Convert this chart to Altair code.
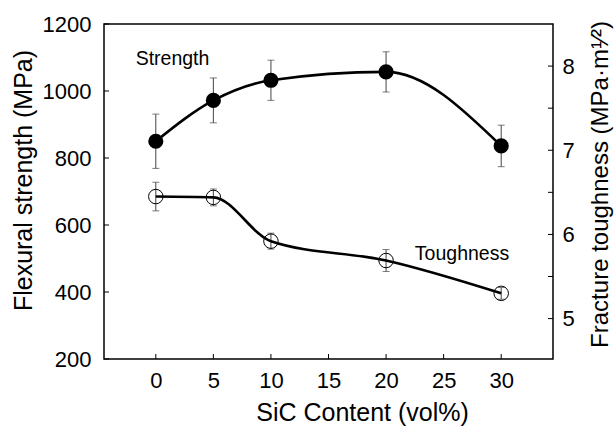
import altair as alt
import pandas as pd

# ---- data ----
sic = [0, 5, 10, 20, 30]
strength = [850, 972, 1032, 1057, 836]
strength_err = [81, 67, 60, 60, 62]
toughness = [6.45, 6.44, 5.92, 5.69, 5.30]
toughness_err = [0.17, 0.10, 0.095, 0.13, 0.07]

x_ticks = [0, 5, 10, 15, 20, 25, 30]
left_ticks = [200, 400, 600, 800, 1000, 1200]
right_ticks = [5, 5.5, 6, 6.5, 7, 7.5, 8]
right_labels = [5, 6, 7, 8]

labels = ["Strength", "Toughness"]
label_x = [-1.75, 22.5]
label_y = [1077, 495]

W, H = 449, 335
FONT = "Liberation Sans"

s_df = pd.DataFrame({
    "sic": sic, "v": strength,
    "lo": [a - b for a, b in zip(strength, strength_err)],
    "hi": [a + b for a, b in zip(strength, strength_err)],
})
t_df = pd.DataFrame({
    "sic": sic, "v": toughness,
    "lo": [a - b for a, b in zip(toughness, toughness_err)],
    "hi": [a + b for a, b in zip(toughness, toughness_err)],
})
xt_df = pd.DataFrame({"sic": x_ticks})
lt_df = pd.DataFrame({"v": left_ticks})
rt_df = pd.DataFrame({"v": right_ticks})
lab_df = pd.DataFrame({"txt": labels, "sic": label_x, "v": label_y})

common = dict(ticks=False, domain=False, grid=False, labelFontSize=22,
              titleFontWeight="normal", labelFont=FONT, titleFont=FONT,
              labelColor="black", titleColor="black", format="d")

XA = alt.Axis(values=x_ticks, title="SiC Content (vol%)", labelPadding=11, titlePadding=9,
              titleFontSize=25, titleX=258, **common)
LA = alt.Axis(values=left_ticks, title="Flexural strength (MPa)", labelPadding=13, titlePadding=6,
              titleFontSize=25, titleY=156, **common)
RA = alt.Axis(values=right_labels, title="Fracture toughness (MPa·m¹⁄²)", orient="right",
              labelPadding=9, titleFontSize=24, titleY=160, titleX=54,
              titleAngle=270, titleBaseline="alphabetic", **common)

XS = alt.Scale(domain=[-4.5, 34.5], nice=False, zero=False)
LS = alt.Scale(domain=[200, 1200], nice=False, zero=False)
TS = alt.Scale(domain=[4.52, 8.5], nice=False, zero=False)

X = alt.X("sic:Q", scale=XS, axis=XA)

def YL(f):
    return alt.Y(f, scale=LS, axis=LA)

def YR(f):
    return alt.Y(f, scale=TS, axis=RA)

ERR = "#444"

# ---- strength (left axis) ----
s_line = alt.Chart(s_df).mark_line(color="black", strokeWidth=2.6, interpolate="monotone").encode(x=X, y=YL("v:Q"))
s_err = alt.Chart(s_df).mark_rule(color=ERR, strokeWidth=1).encode(x=X, y=YL("lo:Q"), y2="hi:Q")
s_cap_lo = alt.Chart(s_df).mark_tick(color=ERR, thickness=1, size=7, orient="horizontal").encode(x=X, y=YL("lo:Q"))
s_cap_hi = alt.Chart(s_df).mark_tick(color=ERR, thickness=1, size=7, orient="horizontal").encode(x=X, y=YL("hi:Q"))
s_pts = alt.Chart(s_df).mark_point(filled=True, color="black", size=230, opacity=1, shape="circle").encode(x=X, y=YL("v:Q"))
l_ticks = alt.Chart(lt_df).mark_rule(color="black", strokeWidth=1).encode(y=YL("v:Q"), x=alt.value(0), x2=alt.value(5))
b_ticks = alt.Chart(xt_df).mark_rule(color="black", strokeWidth=1).encode(x=X, y=alt.value(H), y2=alt.value(H - 5))
texts = alt.Chart(lab_df).mark_text(align="left", baseline="alphabetic", fontSize=19.5, font=FONT, color="black").encode(x=X, y=YL("v:Q"), text="txt:N")

left = alt.layer(s_err, s_cap_lo, s_cap_hi, s_line, s_pts, l_ticks, b_ticks, texts)

# ---- toughness (right axis) ----
t_line = alt.Chart(t_df).mark_line(color="black", strokeWidth=2.6, interpolate="monotone").encode(x=X, y=YR("v:Q"))
t_err = alt.Chart(t_df).mark_rule(color=ERR, strokeWidth=1).encode(x=X, y=YR("lo:Q"), y2="hi:Q")
t_cap_lo = alt.Chart(t_df).mark_tick(color=ERR, thickness=1, size=7, orient="horizontal").encode(x=X, y=YR("lo:Q"))
t_cap_hi = alt.Chart(t_df).mark_tick(color=ERR, thickness=1, size=7, orient="horizontal").encode(x=X, y=YR("hi:Q"))
t_pts = alt.Chart(t_df).mark_point(filled=False, color="black", size=210, strokeWidth=1, opacity=1, shape="circle").encode(x=X, y=YR("v:Q"))
r_ticks = alt.Chart(rt_df).mark_rule(color="black", strokeWidth=1).encode(y=YR("v:Q"), x=alt.value(W - 5), x2=alt.value(W))

right = alt.layer(t_err, t_cap_lo, t_cap_hi, t_line, t_pts, r_ticks)

chart = alt.layer(left, right).resolve_scale(y="independent").properties(
    width=W, height=H,
    autosize=alt.AutoSizeParams(type="none"),
    padding={"left": 104, "top": 24, "right": 61, "bottom": 67},
    background="white",
).configure_view(stroke="black", strokeWidth=1.5)

chart.save("out.html", embed_options={"renderer": "svg", "actions": False})
